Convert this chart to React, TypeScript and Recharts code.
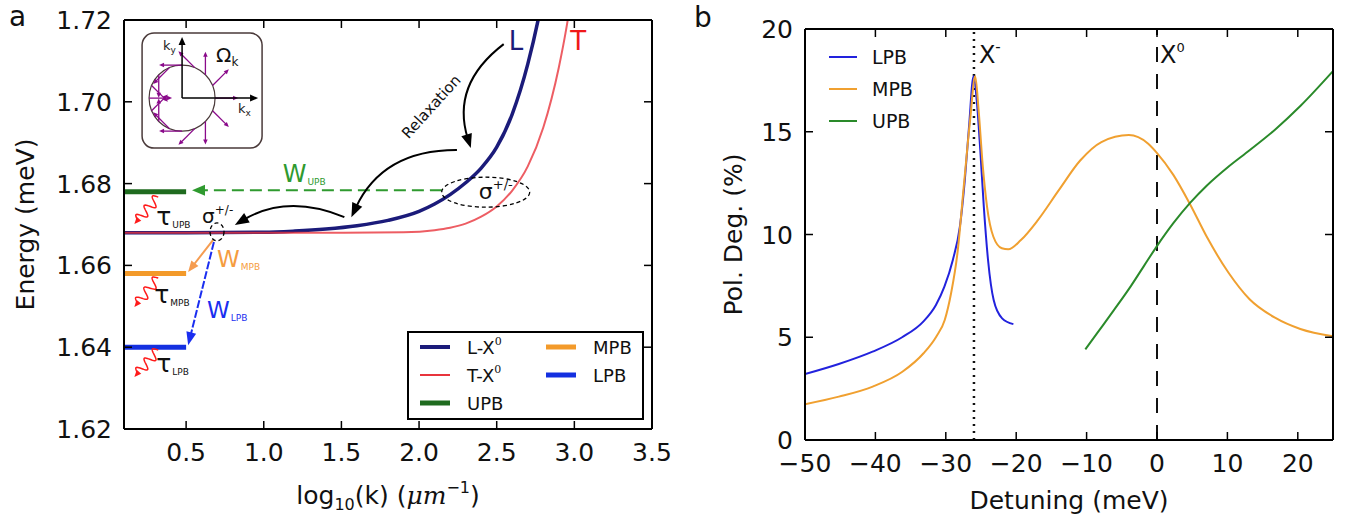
import React from "react";
import { LineChart, Line, XAxis, YAxis, ReferenceLine, ReferenceDot, Legend } from "recharts";

const FONT = "DejaVu Sans";

// ---------- panel a : exciton dispersion vs log10(k) ----------
const kTicks = [0.5, 1.0, 1.5, 2.0, 2.5, 3.0, 3.5];
const energyTicks = [1.62, 1.64, 1.66, 1.68, 1.7, 1.72];

// [log10(k), energy]
const lX0: [number, number][] = [
  [0.1, 1.668], [0.5, 1.668], [1.0, 1.6681], [1.2, 1.6684], [1.4, 1.6689], [1.6, 1.6697],
  [1.8, 1.671], [2.0, 1.6732], [2.1, 1.675], [2.2, 1.6773], [2.3, 1.6802], [2.4, 1.6838],
  [2.5, 1.6889], [2.6, 1.697], [2.7, 1.7092], [2.77, 1.7206], [2.82, 1.7305],
];
const tX0: [number, number][] = [
  [0.1, 1.668], [1.0, 1.668], [1.5, 1.668], [1.9, 1.6681], [2.1, 1.6686], [2.2, 1.6692],
  [2.3, 1.6702], [2.4, 1.6719], [2.5, 1.6744], [2.6, 1.6783], [2.7, 1.6842], [2.8, 1.6937],
  [2.9, 1.7084], [2.95, 1.7183], [3.0, 1.7307],
];
const upbLevel: [number, number][] = [[0.1, 1.678], [0.5, 1.678]];
const mpbLevel: [number, number][] = [[0.1, 1.658], [0.5, 1.658]];
const lpbLevel: [number, number][] = [[0.1, 1.64], [0.5, 1.64]];

// ---------- panel b : polarisation degree vs detuning ----------
const detTicks = [-50, -40, -30, -20, -10, 0, 10, 20];
const polTicks = [0, 5, 10, 15, 20];

const lpbDet = [-50, -45.2, -40.4, -36.2, -33.2, -31.4, -30.2, -29.0, -28.0, -27.3, -26.7, -26.06, -25.6, -25.1, -24.6, -24.0, -23.2, -22.0, -20.4];
const lpbPol = [3.21, 3.7, 4.3, 5.0, 5.76, 6.57, 7.46, 8.76, 10.38, 12.65, 15.25, 17.7, 16.5, 14.1, 11.35, 8.76, 6.81, 5.92, 5.64];

const mpbDet = [-50, -45.19, -40.38, -36.17, -33.16, -31.36, -30.15, -29.25, -28.35, -27.45, -26.55, -25.82, -25.34, -24.74, -24.14, -23.24, -22.04, -21.13, -19.33, -16.92, -13.92, -10.91, -7.9, -3.99, -1.29, -0.08, 2.32, 4.73, 7.13, 10.14, 13.15, 16.76, 20.36, 25];
const mpbPol = [1.74, 2.11, 2.6, 3.32, 4.22, 5.03, 5.84, 7.14, 9.08, 12.33, 15.57, 17.7, 16.06, 13.3, 11.35, 9.89, 9.33, 9.28, 9.73, 10.7, 12.17, 13.6, 14.5, 14.84, 14.43, 14.0, 12.9, 11.45, 9.85, 8.15, 6.85, 5.95, 5.4, 5.05];

const upbDet = [-10.18, -8.5, -6.1, -3.69, -1.89, -0.08, 2.32, 4.73, 7.13, 10.14, 13.15, 16.76, 20.36, 25];
const upbPol = [4.41, 5.2, 6.33, 7.5, 8.45, 9.4, 10.55, 11.55, 12.4, 13.3, 14.1, 15.1, 16.25, 17.95];

const trionDet = -26;
const neutralDet = 0;

const pairs = (p: [number, number][]) => p.map(([x, y]) => ({ x, y }));
const zip = (xs: number[], ys: number[]) => xs.map((x, i) => ({ x, y: ys[i] }));

const NAVY = "#1b1b7a";
const RED = "#e8343c";

// ---------- ticks drawn inward, matplotlib style ----------
const BottomTick = ({ x, y, payload, fmt }: any) => (
  <g>
    <line x1={x} x2={x} y1={y} y2={y - 8} stroke="#000" strokeWidth={1.5} />
    <text x={x} y={y + 32} textAnchor="middle" fontSize={25} fontFamily={FONT} fill="#111">
      {fmt(payload.value)}
    </text>
  </g>
);
const TopTick = ({ x, y }: any) => <line x1={x} x2={x} y1={y} y2={y + 8} stroke="#000" strokeWidth={1.5} />;
const LeftTick = ({ x, y, payload, fmt }: any) => (
  <g>
    <line x1={x} x2={x + 8} y1={y} y2={y} stroke="#000" strokeWidth={1.5} />
    <text x={x - 12} y={y + 9} textAnchor="end" fontSize={25} fontFamily={FONT} fill="#111">
      {fmt(payload.value)}
    </text>
  </g>
);
const RightTick = ({ x, y }: any) => <line x1={x} x2={x - 8} y1={y} y2={y} stroke="#000" strokeWidth={1.5} />;

const minus = (v: number) => (v < 0 ? "\u2212" + Math.abs(v) : String(v));
const frame = { stroke: "#000", strokeWidth: 2 };

// ---------- annotation helpers ----------
function head(x: number, y: number, ang: number, len: number, wid: number, color: string) {
  const bx = x - len * Math.cos(ang);
  const by = y - len * Math.sin(ang);
  const px = (-Math.sin(ang) * wid) / 2;
  const py = (Math.cos(ang) * wid) / 2;
  return <polygon points={`${x},${y} ${bx + px},${by + py} ${bx - px},${by - py}`} fill={color} />;
}

const straightArrow = (color: string, width: number, dash: string | undefined, hl: number, hw: number) => (p: any) => {
  const ang = Math.atan2(p.y2 - p.y1, p.x2 - p.x1);
  const ex = p.x2 - hl * 0.8 * Math.cos(ang);
  const ey = p.y2 - hl * 0.8 * Math.sin(ang);
  return (
    <g>
      <line x1={p.x1} y1={p.y1} x2={ex} y2={ey} stroke={color} strokeWidth={width} strokeDasharray={dash} />
      {head(p.x2, p.y2, ang, hl, hw, color)}
    </g>
  );
};

const curvedArrow = (bend: number) => (p: any) => {
  const dx = p.x2 - p.x1;
  const dy = p.y2 - p.y1;
  const cx = (p.x1 + p.x2) / 2 - bend * dy;
  const cy = (p.y1 + p.y2) / 2 + bend * dx;
  const ang = Math.atan2(p.y2 - cy, p.x2 - cx);
  const ex = p.x2 - 10 * Math.cos(ang);
  const ey = p.y2 - 10 * Math.sin(ang);
  return (
    <g>
      <path d={`M${p.x1},${p.y1} Q${cx},${cy} ${ex},${ey}`} fill="none" stroke="#000" strokeWidth={2} />
      {head(p.x2, p.y2, ang, 14, 11, "#000")}
    </g>
  );
};

const wavyArrow = (p: any) => {
  const dx = p.x2 - p.x1;
  const dy = p.y2 - p.y1;
  const len = Math.hypot(dx, dy);
  const ux = dx / len, uy = dy / len;
  const stop = len - 5;
  const pts: string[] = [];
  for (let s = 0; s <= stop; s += 0.5) {
    const a = 5 * Math.sin((s / stop) * Math.PI * 5);
    pts.push(`${p.x1 + ux * s - uy * a},${p.y1 + uy * s + ux * a}`);
  }
  return (
    <g>
      <polyline points={pts.join(" ")} fill="none" stroke="#ff1a1a" strokeWidth={1.5} />
      {head(p.x2, p.y2, Math.atan2(dy, dx), 7, 6, "#ff1a1a")}
    </g>
  );
};

type Part = { t: string; size: number; dy?: number; dx?: number; italic?: boolean };
const textShape = (parts: Part[], color: string, rotate = 0) => (p: any) => (
  <text
    x={p.cx}
    y={p.cy}
    fill={color}
    fontFamily={FONT}
    transform={rotate ? `rotate(${rotate} ${p.cx} ${p.cy})` : undefined}
    textAnchor={rotate ? "middle" : "start"}
  >
    {parts.map((q, i) => (
      <tspan key={i} fontSize={q.size} dy={q.dy} dx={q.dx} fontStyle={q.italic ? "italic" : undefined}>
        {q.t}
      </tspan>
    ))}
  </text>
);

const ellipseShape = (rx: number, ry: number) => (p: any) => (
  <ellipse cx={p.cx} cy={p.cy} rx={rx} ry={ry} fill="none" stroke="#000" strokeWidth={1.3} strokeDasharray="4 3" />
);

const insetAngles = Array.from({ length: 16 }, (_, i) => i * 22.5);

const insetShape = (p: any) => {
  const ox = p.cx, oy = p.cy, r = 33, L = 23;
  const purple = "#8a0a8a";
  return (
    <g>
      <rect x={ox - 40} y={oy - 65} width={120} height={115} rx={12} fill="#fff" stroke="#4a3a3a" strokeWidth={1.5} />
      <circle cx={ox} cy={oy} r={r} fill="none" stroke="#4a3a3a" strokeWidth={1.2} />
      {insetAngles.map((deg) => {
        const t = (deg * Math.PI) / 180;
        const sx = ox + r * Math.cos(t), sy = oy - r * Math.sin(t);
        const ex = sx + L * Math.cos(2 * t), ey = sy - L * Math.sin(2 * t);
        const ang = Math.atan2(ey - sy, ex - sx);
        return (
          <g key={deg}>
            <line x1={sx} y1={sy} x2={ex - 3 * Math.cos(ang)} y2={ey - 3 * Math.sin(ang)} stroke={purple} strokeWidth={1.3} />
            {head(ex, ey, ang, 5, 4.5, purple)}
          </g>
        );
      })}
      <line x1={ox} y1={oy} x2={ox} y2={oy - 55} stroke="#000" strokeWidth={1.5} />
      {head(ox, oy - 61, -Math.PI / 2, 8, 7, "#000")}
      <line x1={ox} y1={oy} x2={ox + 69} y2={oy} stroke="#000" strokeWidth={1.5} />
      {head(ox + 76, oy, 0, 8, 7, "#000")}
      <text x={ox - 19} y={oy - 48} fontFamily={FONT} fontSize={13} fill="#222">
        k<tspan fontSize={9} dy={3}>y</tspan>
      </text>
      <text x={ox + 56} y={oy + 15} fontFamily={FONT} fontSize={13} fill="#222">
        k<tspan fontSize={9} dy={3}>x</tspan>
      </text>
      <text x={ox + 34} y={oy - 36} fontFamily={FONT} fontSize={20} fill="#111">
        Ω<tspan fontSize={12} dy={4}>k</tspan>
      </text>
    </g>
  );
};

const sub = (main: string, s: string, mainSize: number, subSize: number): Part[] => [
  { t: main, size: mainSize },
  { t: s, size: subSize, dy: 3, dx: 1 },
];

const LegendA = () => {
  const rows = [
    { name: "L-X", color: NAVY, w: 4, col: 0, row: 0 },
    { name: "T-X", color: RED, w: 2, col: 0, row: 1 },
    { name: "UPB", color: "#1f6b1f", w: 5, col: 0, row: 2 },
    { name: "MPB", color: "#f39a2a", w: 5, col: 1, row: 0 },
    { name: "LPB", color: "#1430e0", w: 5, col: 1, row: 1 },
  ];
  return (
    <svg width={237} height={89} style={{ display: "block" }}>
      <rect x={1} y={1} width={235} height={87} fill="#fff" stroke="#000" strokeWidth={2} />
      {rows.map((r) => {
        const x0 = r.col ? 139 : 13;
        const y0 = 16 + r.row * 28;
        return (
          <g key={r.name}>
            <line x1={x0} x2={x0 + 30} y1={y0} y2={y0} stroke={r.color} strokeWidth={r.w} />
            <text x={x0 + 47} y={y0 + 7} fontFamily={FONT} fontSize={18} fill="#111">
              {r.name}
              {r.name.endsWith("X") ? (
                <tspan fontSize={11} dy={-9} fontFamily="DejaVu Serif">0</tspan>
              ) : null}
            </text>
          </g>
        );
      })}
    </svg>
  );
};

const LegendB = () => {
  const rows = [
    { name: "LPB", color: "#2222dd" },
    { name: "MPB", color: "#f0a030" },
    { name: "UPB", color: "#2a8a2a" },
  ];
  return (
    <svg width={120} height={90} style={{ display: "block" }}>
      {rows.map((r, i) => (
        <g key={r.name}>
          <line x1={0} x2={28} y1={12 + i * 32} y2={12 + i * 32} stroke={r.color} strokeWidth={2} />
          <text x={43} y={19 + i * 32} fontFamily={FONT} fontSize={19} fill="#111">
            {r.name}
          </text>
        </g>
      ))}
    </svg>
  );
};

function PanelA() {
  return (
    <LineChart width={680} height={521} margin={{ top: 19, right: 27, bottom: 0, left: 0 }}>
      <XAxis
        dataKey="x" type="number" domain={[0.1, 3.5]} ticks={kTicks} allowDataOverflow interval={0}
        height={92} tickSize={0} tickMargin={0} tickLine={false} axisLine={frame}
        tick={(p: any) => <BottomTick {...p} fmt={(v: number) => v.toFixed(1)} />}
        label={{
          content: (p: any) => {
            const vb = p.viewBox;
            return (
              <text x={vb.x + vb.width / 2} y={vb.y + 75} textAnchor="middle" fontFamily={FONT} fontSize={25} fill="#111">
                log<tspan fontSize={16} dy={6}>10</tspan>
                <tspan dy={-6}>(k) (</tspan>
                <tspan fontFamily="DejaVu Serif" fontStyle="italic">μm</tspan>
                <tspan fontSize={16} dy={-11}>−1</tspan>
                <tspan dy={11}>)</tspan>
              </text>
            );
          },
        }}
      />
      <XAxis
        xAxisId="top" orientation="top" dataKey="x" type="number" domain={[0.1, 3.5]} ticks={kTicks}
        allowDataOverflow interval={0} height={1} tickSize={0} tickMargin={0} tickLine={false} axisLine={frame}
        tick={TopTick}
      />
      <YAxis
        type="number" domain={[1.62, 1.72]} ticks={energyTicks} allowDataOverflow interval={0} width={124}
        tickSize={0} tickMargin={0} tickLine={false} axisLine={frame}
        tick={(p: any) => <LeftTick {...p} fmt={(v: number) => v.toFixed(2)} />}
        label={{
          content: (p: any) => {
            const vb = p.viewBox;
            const cy = vb.y + vb.height / 2;
            return (
              <text x={25} y={cy} transform={`rotate(-90 25 ${cy})`} textAnchor="middle" dominantBaseline="central"
                fontFamily={FONT} fontSize={25} fill="#111">
                Energy (meV)
              </text>
            );
          },
        }}
      />
      <YAxis
        yAxisId="right" orientation="right" type="number" domain={[1.62, 1.72]} ticks={energyTicks}
        allowDataOverflow interval={0} width={1} tickSize={0} tickMargin={0} tickLine={false} axisLine={frame}
        tick={RightTick}
      />

      <ReferenceDot x={0.474} y={1.7009} r={0} shape={insetShape} />

      <Line data={pairs(upbLevel)} dataKey="y" name="UPB" stroke="#1f6b1f" strokeWidth={5} dot={false} isAnimationActive={false} />
      <Line data={pairs(mpbLevel)} dataKey="y" name="MPB" stroke="#f39a2a" strokeWidth={5} dot={false} isAnimationActive={false} />
      <Line data={pairs(lpbLevel)} dataKey="y" name="LPB" stroke="#1430e0" strokeWidth={5} dot={false} isAnimationActive={false} />
      <Line data={pairs(lX0)} dataKey="y" name="L-X0" type="monotone" stroke={NAVY} strokeWidth={3.5} dot={false} isAnimationActive={false} />
      <Line data={pairs(tX0)} dataKey="y" name="T-X0" type="monotone" stroke={RED} strokeOpacity={0.8} strokeWidth={2} dot={false} isAnimationActive={false} />

      <ReferenceLine segment={[{ x: 2.147, y: 1.6784 }, { x: 0.538, y: 1.6784 }]} shape={straightArrow("#2f9a2f", 2, "12 6", 13, 11)} />
      <ReferenceLine segment={[{ x: 0.673, y: 1.6662 }, { x: 0.513, y: 1.6584 }]} shape={straightArrow("#f59c50", 2, undefined, 11, 9)} />
      <ReferenceLine segment={[{ x: 0.679, y: 1.6657 }, { x: 0.513, y: 1.6405 }]} shape={straightArrow("#1a2ef0", 2, "8 2", 13, 10)} />
      <ReferenceLine segment={[{ x: 2.545, y: 1.7141 }, { x: 2.333, y: 1.6887 }]} shape={curvedArrow(0.35)} />
      <ReferenceLine segment={[{ x: 2.244, y: 1.6882 }, { x: 1.564, y: 1.6718 }]} shape={curvedArrow(0.32)} />
      <ReferenceLine segment={[{ x: 1.519, y: 1.6718 }, { x: 0.814, y: 1.6699 }]} shape={curvedArrow(0.25)} />
      <ReferenceLine segment={[{ x: 0.3205, y: 1.6767 }, { x: 0.1667, y: 1.6701 }]} shape={wavyArrow} />
      <ReferenceLine segment={[{ x: 0.3205, y: 1.6569 }, { x: 0.1667, y: 1.6498 }]} shape={wavyArrow} />
      <ReferenceLine segment={[{ x: 0.3205, y: 1.6393 }, { x: 0.1667, y: 1.6327 }]} shape={wavyArrow} />

      <ReferenceDot x={2.429} y={1.6779} r={0} shape={ellipseShape(44, 15)} />
      <ReferenceDot x={0.699} y={1.6682} r={0} shape={ellipseShape(7, 9)} />

      <ReferenceDot x={2.577} y={1.7127} r={0} shape={textShape([{ t: "L", size: 26 }], NAVY)} />
      <ReferenceDot x={2.974} y={1.7127} r={0} shape={textShape([{ t: "T", size: 26 }], "#f01818")} />
      <ReferenceDot x={2.103} y={1.698} r={0} shape={textShape([{ t: "Relaxation", size: 15 }], "#111", -48)} />
      <ReferenceDot x={2.385} y={1.6762} r={0} shape={textShape([{ t: "σ", size: 22 }, { t: "+/-", size: 13, dy: -10 }], "#111")} />
      <ReferenceDot x={0.603} y={1.6704} r={0} shape={textShape([{ t: "σ", size: 20 }, { t: "+/-", size: 12, dy: -9 }], "#111")} />
      <ReferenceDot x={1.122} y={1.6804} r={0} shape={textShape(sub("W", "UPB", 24, 9), "#2f9a2f")} />
      <ReferenceDot x={0.699} y={1.6596} r={0} shape={textShape(sub("W", "MPB", 23, 9), "#f59c40")} />
      <ReferenceDot x={0.635} y={1.6471} r={0} shape={textShape(sub("W", "LPB", 23, 9), "#1a2ef0")} />
      <ReferenceDot x={0.308} y={1.6699} r={0} shape={textShape(sub("τ", "UPB", 25, 9), "#111")} />
      <ReferenceDot x={0.295} y={1.6508} r={0} shape={textShape(sub("τ", "MPB", 25, 9), "#111")} />
      <ReferenceDot x={0.308} y={1.6339} r={0} shape={textShape(sub("τ", "LPB", 25, 9), "#111")} />

      <Legend
        layout="vertical" align="center" verticalAlign="middle"
        wrapperStyle={{ left: 407, top: 331, width: 237, height: 89 }}
        content={() => <LegendA />}
      />
    </LineChart>
  );
}

function PanelB() {
  return (
    <LineChart width={666} height={521} margin={{ top: 28, right: 22, bottom: 0, left: 0 }}>
      <XAxis
        dataKey="x" type="number" domain={[-50, 25]} ticks={detTicks} allowDataOverflow interval={0}
        height={81} tickSize={0} tickMargin={0} tickLine={false} axisLine={frame}
        tick={(p: any) => <BottomTick {...p} fmt={minus} />}
        label={{
          content: (p: any) => {
            const vb = p.viewBox;
            return (
              <text x={vb.x + vb.width / 2} y={vb.y + 69} textAnchor="middle" fontFamily={FONT} fontSize={25} fill="#111">
                Detuning (meV)
              </text>
            );
          },
        }}
      />
      <XAxis
        xAxisId="top" orientation="top" dataKey="x" type="number" domain={[-50, 25]} ticks={detTicks}
        allowDataOverflow interval={0} height={1} tickSize={0} tickMargin={0} tickLine={false} axisLine={frame}
        tick={TopTick}
      />
      <YAxis
        type="number" domain={[0, 20]} ticks={polTicks} allowDataOverflow interval={0} width={115}
        tickSize={0} tickMargin={0} tickLine={false} axisLine={frame}
        tick={(p: any) => <LeftTick {...p} fmt={(v: number) => String(v)} />}
        label={{
          content: (p: any) => {
            const vb = p.viewBox;
            const cy = vb.y + vb.height / 2;
            return (
              <text x={43} y={cy} transform={`rotate(-90 43 ${cy})`} textAnchor="middle" dominantBaseline="central"
                fontFamily={FONT} fontSize={25} fill="#111">
                Pol. Deg. (%)
              </text>
            );
          },
        }}
      />
      <YAxis
        yAxisId="right" orientation="right" type="number" domain={[0, 20]} ticks={polTicks}
        allowDataOverflow interval={0} width={1} tickSize={0} tickMargin={0} tickLine={false} axisLine={frame}
        tick={RightTick}
      />

      <ReferenceLine x={trionDet} stroke="#111" strokeWidth={2.5} strokeDasharray="2 5" />
      <ReferenceLine x={neutralDet} stroke="#111" strokeWidth={2} strokeDasharray="15 12" />

      <Line data={zip(lpbDet, lpbPol)} dataKey="y" name="LPB" type="monotone" stroke="#2222dd" strokeWidth={2} dot={false} isAnimationActive={false} />
      <Line data={zip(mpbDet, mpbPol)} dataKey="y" name="MPB" type="monotone" stroke="#f0a030" strokeWidth={2} dot={false} isAnimationActive={false} />
      <Line data={zip(upbDet, upbPol)} dataKey="y" name="UPB" type="monotone" stroke="#2a8a2a" strokeWidth={2} dot={false} isAnimationActive={false} />

      <ReferenceDot x={-25.3} y={18.35} r={0} shape={textShape([{ t: "X", size: 24 }, { t: "-", size: 15, dy: -11 }], "#111")} />
      <ReferenceDot x={0.43} y={18.35} r={0} shape={textShape([{ t: "X", size: 24 }, { t: "0", size: 13, dy: -11 }], "#111")} />

      <Legend
        layout="vertical" align="center" verticalAlign="middle"
        wrapperStyle={{ left: 139, top: 45, width: 120, height: 90 }}
        content={() => <LegendB />}
      />
    </LineChart>
  );
}

export default function App() {
  return (
    <div style={{ position: "absolute", left: 0, top: 0, width: 1356, height: 521, background: "#fff", fontFamily: FONT }}>
      <div style={{ position: "absolute", left: 0, top: 0 }}>
        <PanelA />
      </div>
      <div style={{ position: "absolute", left: 690, top: 0 }}>
        <PanelB />
      </div>
      <svg width={1356} height={521} style={{ position: "absolute", left: 0, top: 0, pointerEvents: "none" }}>
        <text x={9} y={26} fontFamily={FONT} fontSize={28} fill="#111">a</text>
        <text x={694} y={27} fontFamily={FONT} fontSize={28} fill="#111">b</text>
      </svg>
    </div>
  );
}
